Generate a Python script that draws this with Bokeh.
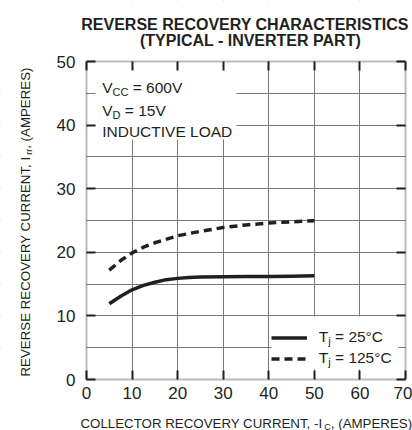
import math
from bokeh.plotting import figure
from bokeh.models import Label, BoxAnnotation, Legend, LegendItem, LinearAxis, FixedTicker, Range1d
from bokeh.core.properties import value
from bokeh.embed import file_html
from bokeh.resources import INLINE

# ---------------- data ----------------
ic_25 = [5, 7.5, 10, 12.5, 15, 17.5, 20, 22.5, 25, 30, 35, 40, 45, 50]
irr_25 = [11.9, 13.1, 14.1, 14.8, 15.3, 15.7, 15.9, 16.05, 16.1, 16.15, 16.2, 16.2, 16.25, 16.3]
ic_125 = [5, 7.5, 10, 12.5, 15, 20, 25, 30, 35, 40, 45, 50]
irr_125 = [17.2, 18.7, 19.9, 20.8, 21.5, 22.6, 23.3, 23.9, 24.3, 24.6, 24.8, 24.95]

x_ticks = [0, 10, 20, 30, 40, 50, 60, 70]
y_ticks = [0, 10, 20, 30, 40, 50]
x_grid = [10, 20, 30, 40, 50, 60]
y_grid = [5, 10, 15, 20, 25, 30, 35, 40, 45]

title_lines = ["REVERSE RECOVERY CHARACTERISTICS", "(TYPICAL - INVERTER PART)"]
conditions = [("V", "CC", " = 600V"), ("V", "D", " = 15V"), ("INDUCTIVE LOAD", "", "")]
legend_texts = [("T", "j", " = 25\u00b0C"), ("T", "j", " = 125\u00b0C")]
x_label = ("COLLECTOR RECOVERY CURRENT, -I", "C", ", (AMPERES)")
y_label = ("REVERSE RECOVERY CURRENT, I", "rr", ", (AMPERES)")

# ---------------- layout (pixels of the picture) ----------------
W, H = 412, 430
BOX_L, BOX_R, BOX_T, BOX_B = 86, 405, 61, 379
XMAX, YMAX = 70, 50
XS = (BOX_R - BOX_L) / XMAX
YS = (BOX_B - BOX_T) / YMAX
FONT = "Liberation Sans"
INK = "#231f20"


def dx(px):
    return (px - BOX_L) / XS


def dy(py):
    return (BOX_B - py) / YS


ARIAL = {' ': 278, ',': 278, '(': 333, ')': 333, '-': 333, '=': 584, '\u00b0': 400,
         'A': 667, 'B': 667, 'C': 722, 'D': 722, 'E': 667, 'F': 611, 'G': 778, 'H': 722,
         'I': 278, 'J': 500, 'K': 667, 'L': 556, 'M': 833, 'N': 722, 'O': 778, 'P': 667,
         'Q': 778, 'R': 722, 'S': 667, 'T': 611, 'U': 722, 'V': 667, 'W': 944, 'X': 667,
         'Y': 667, 'Z': 611, 'j': 222, 'r': 333}


def tw(s, size):
    return sum(ARIAL.get(c, 556) for c in s) / 1000.0 * size


p = figure(width=W, height=H,
           x_range=Range1d(dx(0), dx(W)), y_range=Range1d(dy(H), dy(0)),
           output_backend="svg", toolbar_location=None, title=None,
           min_border_left=0, min_border_right=0, min_border_top=0, min_border_bottom=0)
p.background_fill_color = "white"
p.border_fill_color = "white"
p.outline_line_color = None

# grids
p.xgrid.ticker = FixedTicker(ticks=x_grid)
p.ygrid.ticker = FixedTicker(ticks=y_grid)
p.grid.grid_line_color = "#7a7a7a"
p.grid.grid_line_width = 1

# white masks so the grid stays inside the plot box
for kw in (dict(right=0), dict(left=XMAX), dict(top=0), dict(bottom=YMAX)):
    p.add_layout(BoxAnnotation(fill_color="white", fill_alpha=1.0, line_color=None,
                               level="underlay", **kw))


def style_axis(ax, labels=True):
    ax.axis_line_color = None
    ax.major_tick_in = 9
    ax.major_tick_out = 0
    ax.major_tick_line_width = 2
    ax.major_tick_line_color = INK
    ax.minor_tick_line_color = None
    ax.major_label_text_font = FONT
    ax.major_label_text_font_size = "17px"
    if labels:
        ax.major_label_text_color = INK
    else:
        ax.major_label_text_color = None


bx = p.xaxis[0]
by = p.yaxis[0]
bx.ticker = FixedTicker(ticks=x_ticks)
by.ticker = FixedTicker(ticks=y_ticks)
bx.fixed_location = 0
by.fixed_location = 0
style_axis(bx)
style_axis(by)
bx.major_label_standoff = 7
by.major_label_standoff = 11

top_ax = LinearAxis(ticker=FixedTicker(ticks=x_ticks), fixed_location=YMAX)
style_axis(top_ax, labels=False)
p.add_layout(top_ax, "above")
right_ax = LinearAxis(ticker=FixedTicker(ticks=y_ticks), fixed_location=XMAX)
style_axis(right_ax, labels=False)
p.add_layout(right_ax, "right")

# white panels behind the test conditions and the legend
p.add_layout(BoxAnnotation(left=dx(95), right=dx(236), bottom=dy(139), top=YMAX,
                           fill_color="white", fill_alpha=1.0, line_color=None, level="underlay"))
p.add_layout(BoxAnnotation(left=dx(271), right=dx(398), bottom=dy(369), top=dy(316),
                           fill_color="white", fill_alpha=1.0, line_color=None, level="underlay"))

# plot box outline
p.add_layout(BoxAnnotation(left=0, right=XMAX, bottom=0, top=YMAX, fill_alpha=0.0,
                           line_color=INK, line_width=2))

# curves
r25 = p.line(ic_25, irr_25, line_width=3.5, line_color=INK, line_cap="butt")
r125 = p.line(ic_125, irr_125, line_width=3.5, line_color=INK, line_dash="8 5", line_cap="butt")

legend = Legend(items=[LegendItem(label=value(" "), renderers=[r25]),
                       LegendItem(label=value(" "), renderers=[r125])],
                location=(271, H - 369.2), orientation="vertical", padding=6, spacing=0, margin=0,
                glyph_width=36, glyph_height=21, label_height=21, label_width=74,
                label_standoff=5, border_line_color=None, background_fill_alpha=0.0,
                label_text_font_size="10px", label_text_color=None)
p.add_layout(legend)


def rich(parts, px, py, size, sub_size, sub_drop, angle=0.0):
    off = 0.0
    for i, txt in enumerate(parts):
        if not txt:
            continue
        is_sub = (i == 1)
        s = sub_size if is_sub else size
        lead = len(txt) - len(txt.lstrip(" "))
        off += tw(txt[:lead], s)
        body = txt[lead:]
        if angle == 0:
            xo, yo = off, (-sub_drop if is_sub else 0)
        else:
            xo, yo = (sub_drop if is_sub else 0), off
        p.add_layout(Label(x=dx(px), y=dy(py), x_offset=xo, y_offset=yo, text=body,
                           angle=angle, text_font=FONT, text_font_size=f"{s}px",
                           text_align="left", text_baseline="alphabetic", text_color=INK))
        off += tw(body, s)


# title
for txt, cx, base in zip(title_lines, [244.5, 250], [24, 40]):
    p.add_layout(Label(x=dx(cx), y=dy(base), text=txt, text_font=FONT, text_font_size="16px",
                       text_font_style="bold", text_align="center", text_baseline="alphabetic",
                       text_color=INK))

# test conditions
for parts, base in zip(conditions, [87, 110, 131]):
    rich(parts, 101.7, base, 15.5, 11, 4)

# legend texts
for parts, base in zip(legend_texts, [336, 357]):
    rich(parts, 318.3, base, 15.5, 11, 4)

# axis labels
rich(x_label, 80, 423, 13.3, 9, 3)
rich(y_label, 25, 376, 13.3, 9, 3, angle=math.pi / 2)

open("out.html", "w").write(file_html(p, INLINE))
